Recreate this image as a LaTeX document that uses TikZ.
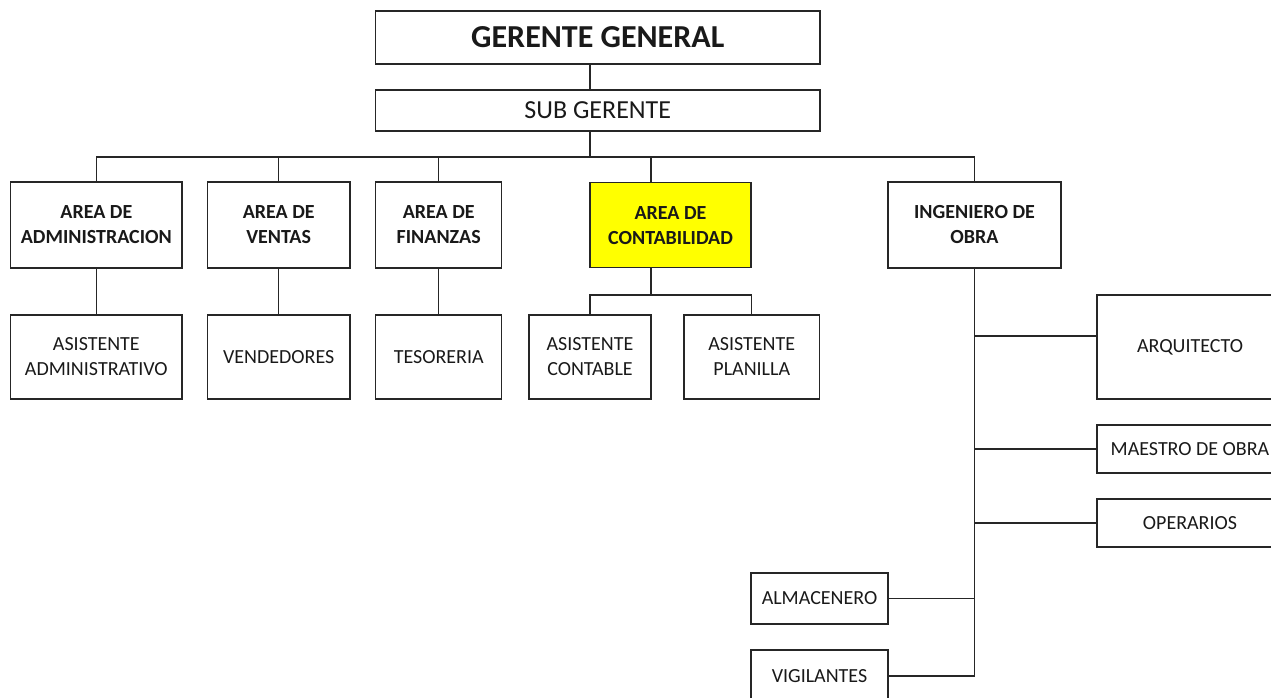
\documentclass[tikz,border=0pt]{standalone}
\usepackage{fontspec}
\setmainfont{Carlito}
\usetikzlibrary{calc}
\begin{document}
\begin{tikzpicture}[x=1pt,y=-1pt,
  box/.style={draw=black!85, line width=1.4pt, inner sep=0pt, align=center,
    font=\fontsize{20}{25}\selectfont, text=black!90},
  bbox/.style={box, font=\fontsize{20}{25}\selectfont\bfseries},
  link/.style={draw=black!85, line width=1.4pt}]
\useasboundingbox (0,0) rectangle (1271,697);
% top
\node[box, font=\fontsize{32}{38}\selectfont\bfseries, minimum width=444.5pt, minimum height=53pt] (gg) at (597.75,37.5) {GERENTE GENERAL};
\node[box, font=\fontsize{26}{30}\selectfont, minimum width=444.5pt, minimum height=41pt] (sg) at (597.75,110.5) {SUB GERENTE};
% row 1
\node[bbox, minimum width=171.3pt, minimum height=86pt] (adm) at (96.35,225) {AREA DE\\ADMINISTRACION};
\node[bbox, minimum width=142.7pt, minimum height=86pt] (ven) at (278.7,225) {AREA DE\\VENTAS};
\node[bbox, minimum width=126pt, minimum height=86pt] (fin) at (438.7,225) {AREA DE\\FINANZAS};
\node[bbox, fill={rgb,255:red,255;green,255;blue,0}, minimum width=161pt, minimum height=85pt] (con) at (670.5,225.2) {AREA DE\\CONTABILIDAD};
\node[bbox, minimum width=173pt, minimum height=86pt] (ing) at (974.5,225) {INGENIERO DE\\OBRA};
% row 2
\node[box, minimum width=171.3pt, minimum height=84pt] (asa) at (96.35,357) {ASISTENTE\\ADMINISTRATIVO};
\node[box, minimum width=142.7pt, minimum height=84pt] (vnd) at (278.7,357) {VENDEDORES};
\node[box, minimum width=126pt, minimum height=84pt] (tes) at (438.7,357) {TESORERIA};
\node[box, minimum width=122pt, minimum height=84pt] (acn) at (590,357) {ASISTENTE\\CONTABLE};
\node[box, minimum width=135.5pt, minimum height=84pt] (apl) at (751.75,357) {ASISTENTE\\PLANILLA};
% right column
\node[box, minimum width=186pt, minimum height=104pt] (arq) at (1190,347) {ARQUITECTO};
\node[box, minimum width=186pt, minimum height=48pt] (mae) at (1190,449) {MAESTRO DE OBRA};
\node[box, minimum width=186pt, minimum height=48pt] (ope) at (1190,523) {OPERARIOS};
\node[box, minimum width=137pt, minimum height=51pt] (alm) at (819.5,598.5) {ALMACENERO};
\node[box, minimum width=137pt, minimum height=52pt] (vig) at (819.5,676) {VIGILANTES};
% coordinates
\coordinate (tk) at (590,157);
\coordinate (cd) at (651,295);
\coordinate (ca) at ($(arq.north west)!0.394!(arq.south west)$);
% connectors
\draw[link] (tk |- gg.south) -- (tk |- sg.north);
\draw[link] (tk |- sg.south) -- (tk);
\draw[link] (adm.north) |- (ing.north |- tk) -- (ing.north);
\draw[link] (ven.north) -- (ven.north |- tk);
\draw[link] (fin.north) -- (fin.north |- tk);
\draw[link] (cd |- con.north) -- (cd |- tk);
\draw[link] (adm.south) -- (asa.north);
\draw[link] (ven.south) -- (vnd.north);
\draw[link] (fin.south) -- (tes.north);
\draw[link] (cd |- con.south) -- (cd);
\draw[link] (acn.north) |- (cd) -| (apl.north);
\draw[link] (ing.south) -- (ing.south |- vig.east);
\draw[link] (ca) -- (ing.south |- ca);
\draw[link] (mae.west) -- (ing.south |- mae.west);
\draw[link] (ope.west) -- (ing.south |- ope.west);
\draw[link] (alm.east) -- (ing.south |- alm.east);
\draw[link] (vig.east) -- (ing.south |- vig.east);
\end{tikzpicture}
\end{document}
